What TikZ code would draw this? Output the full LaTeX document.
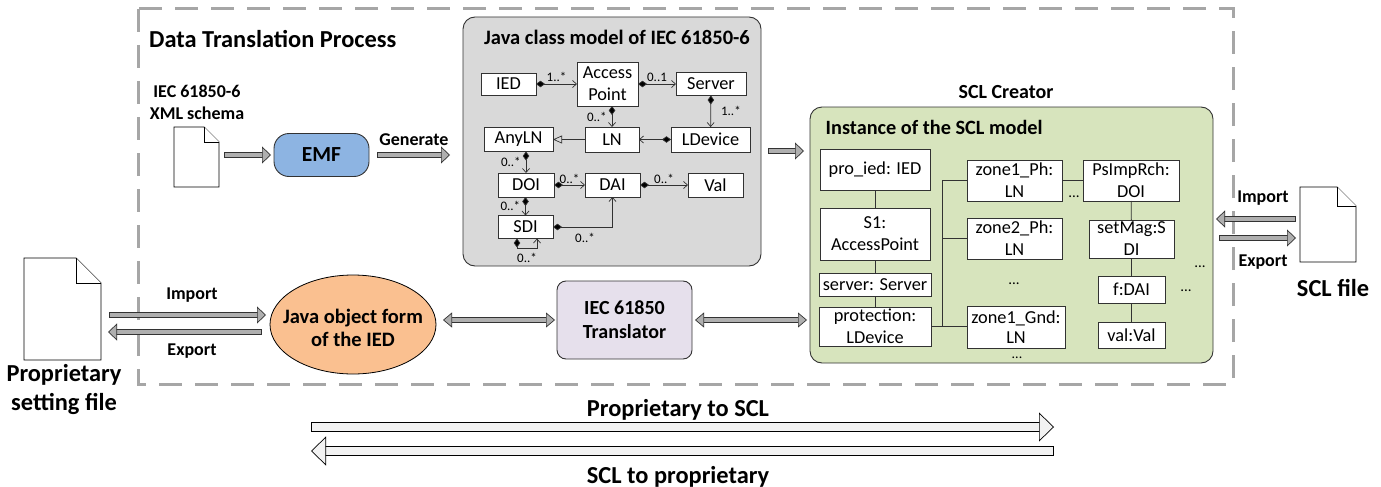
\documentclass[tikz,border=0pt]{standalone}
\usepackage{fontspec}
\setmainfont{Carlito}
\usepackage{tikz}
\usetikzlibrary{arrows.meta, positioning, shapes.geometric, calc}
\definecolor{DashGray}{RGB}{166, 166, 166}
\definecolor{LineDark}{RGB}{50, 50, 50}
\definecolor{ModelGray}{RGB}{217, 217, 217}
\definecolor{SclGreen}{RGB}{215, 228, 189}
\definecolor{EmfBlue}{RGB}{141, 180, 226}
\definecolor{JavaOrange}{RGB}{250, 192, 144}
\definecolor{TransLilac}{RGB}{230, 224, 236}
\definecolor{ArrowGray}{RGB}{175, 175, 175}
\definecolor{ArrowLight}{RGB}{242, 242, 242}
\newcommand{\docfile}[2]{%
    \draw[docline] (#1.north west) -- ([xshift=-#2]#1.north east) -- ([yshift=-#2]#1.north east) -- (#1.south east) -- (#1.south west) -- cycle;
    \draw[docline] ([xshift=-#2]#1.north east) |- ([yshift=-#2]#1.north east);
}

\begin{document}
\begin{tikzpicture}[x=1pt, y=-1pt,
        umlbox/.style={rectangle, draw=LineDark, line width=0.9pt, fill=white, align=center, inner sep=0pt, outer sep=0pt, font=\fontsize{18.3}{22}\selectfont},
        panel/.style={rectangle, draw=LineDark, line width=0.9pt, rounded corners=12pt, inner sep=0pt, outer sep=0pt},
        docbox/.style={rectangle, inner sep=0pt, outer sep=0pt},
        docline/.style={draw=black, line width=0.8pt, fill=white},
        boldtxt/.style={font=\bfseries\fontsize{18}{22}\selectfont, align=center, inner sep=0pt},
        bigtxt/.style={font=\bfseries\fontsize{24.4}{29}\selectfont, align=center, inner sep=0pt},
        multi/.style={font=\fontsize{13}{13}\selectfont, inner sep=0pt},
        dotstxt/.style={font=\fontsize{15}{15}\selectfont, inner sep=0pt},
        comp/.style={draw=LineDark, line width=0.7pt, {Diamond[length=9pt,width=6.5pt,fill=black]}-{Straight Barb[length=4pt,width=7pt]}},
        link/.style={draw=LineDark, line width=0.8pt},
        blockarrow/.style={draw=black!80, double=ArrowGray, double distance=4.6pt, line width=0.7pt, line cap=rect, -{Triangle[length=9pt,width=17pt,fill=ArrowGray,line width=0.7pt]}},
        blockboth/.style={draw=black!80, double=ArrowGray, double distance=4.6pt, line width=0.7pt, {Triangle[length=9pt,width=15pt,fill=ArrowGray,line width=0.7pt]}-{Triangle[length=9pt,width=15pt,fill=ArrowGray,line width=0.7pt]}},
        bigarrow/.style={draw=black, double=ArrowLight, double distance=8.6pt, line width=0.7pt, line cap=rect, -{Triangle[length=15pt,width=29pt,fill=ArrowLight,line width=0.7pt]}}
    ]
        \useasboundingbox (0,0) rectangle (1381,487);
        % dashed process frame
        \draw[DashGray, line width=3pt, dash pattern=on 23pt off 13pt] (138,9) rectangle (1233,384);
        \node[bigtxt, anchor=west] (title) at (149,39) {Data Translation Process};

        % schema and EMF
        \node[boldtxt] (schema) at (197,102) {IEC 61850-6\\XML schema};
        \node[docbox, minimum width=45pt, minimum height=60pt] (xsd) at (196.5,157) {};
        \docfile{xsd}{15pt}
        \node[rectangle, draw=LineDark, line width=0.9pt, fill=EmfBlue, rounded corners=15pt, minimum width=95pt, minimum height=43pt, font=\bfseries\fontsize{21.5}{24}\selectfont, outer sep=0pt] (emf) at (321.5,155) {EMF};
        \draw[blockarrow, shorten <=8pt, shorten >=3pt] (xsd.east |- emf.west) -- (emf.west);

        % class model
        \node[panel, fill=ModelGray, minimum width=298pt, minimum height=249pt] (model) at (612,141.5) {};
        \node[boldtxt, font=\bfseries\fontsize{20.5}{24}\selectfont] (modeltitle) at (617,37) {Java class model of IEC 61850-6};
        \node[boldtxt, anchor=south] (generate) at (414,146) {Generate};
        \draw[blockarrow, shorten <=11pt, shorten >=13pt] (emf.east) -- (model.west |- emf.east);

        \node[umlbox, minimum width=55pt, minimum height=22pt] (ied) at (508.5,84) {IED};
        \node[umlbox, minimum width=61pt, minimum height=44pt] (access) at (607.5,84) {Access\\Point};
        \node[umlbox, minimum width=70pt, minimum height=23pt] (server) at (711,84) {Server};
        \node[umlbox, minimum width=79pt, minimum height=25pt] (ldevice) at (710.5,139.5) {LDevice};
        \node[umlbox, minimum width=54pt, minimum height=25pt] (ln) at (612,139.5) {LN};
        \node[umlbox, minimum width=69pt, minimum height=24pt] (anyln) at (518.5,139.5) {AnyLN};
        \node[umlbox, minimum width=56pt, minimum height=24pt] (doi) at (526,185) {DOI};
        \node[umlbox, minimum width=55pt, minimum height=24pt] (dai) at (612.5,185) {DAI};
        \node[umlbox, minimum width=55pt, minimum height=24pt] (val) at (715.5,185) {Val};
        \node[umlbox, minimum width=55pt, minimum height=23pt] (sdi) at (525.5,227) {SDI};

        \draw[comp] (ied) -- node[multi, above, yshift=2pt] {1..*} (access);
        \draw[comp] (access) -- node[multi, above, yshift=2pt] {0..1} (server);
        \draw[comp] (access.south -| ln.north) -- node[multi, left, xshift=-5pt] {0..*} (ln.north);
        \draw[comp] (server) -- node[multi, right, xshift=10pt] {1..*} (ldevice);
        \draw[comp] (ldevice) -- (ln);
        \draw[link, line width=0.7pt, -{Triangle[open,length=9pt,width=8pt]}] (ln) -- (anyln);
        \draw[comp] (anyln.south -| doi.north) -- node[multi, left, xshift=-5pt] {0..*} (doi.north);
        \draw[comp] (doi) -- node[multi, above, yshift=1pt] {0..*} (dai);
        \draw[comp] (dai) -- node[multi, above, yshift=1pt] {0..*} (val);
        \draw[comp] (doi.south -| sdi.north) -- node[multi, left, xshift=-5pt] {0..*} (sdi.north);
        \draw[comp] (sdi.east) -| (dai.south);
        \node[multi] (sdilabel) at (585,238) {0..*};
        \draw[comp] ([xshift=-8.5pt]sdi.south) -- ++(0,10) -| ([xshift=11.5pt]sdi.south);
        \node[multi] (looplabel) at (527,258) {0..*};

        % SCL creator
        \node[panel, fill=SclGreen, minimum width=403pt, minimum height=256pt] (creator) at (1011.5,235) {};
        \node[boldtxt, font=\bfseries\fontsize{20}{24}\selectfont] (creatortitle) at (1006,92) {SCL Creator};
        \node[boldtxt, font=\bfseries\fontsize{20.3}{24}\selectfont, anchor=west] (instancetitle) at (825.5,127) {Instance of the SCL model};
        \draw[blockarrow, shorten <=10pt, shorten >=6pt] (model.east |- 0,151) -- (creator.west |- 0,151);

        \node[umlbox, minimum width=110pt, minimum height=41pt] (proied) at (875,169.5) {pro\_ied: IED};
        \node[umlbox, minimum width=110pt, minimum height=52pt] (s1) at (875,234) {S1:\\AccessPoint};
        \node[umlbox, minimum width=112pt, minimum height=23pt] (srv) at (875,284.5) {server: Server};
        \node[umlbox, minimum width=112pt, minimum height=39pt] (prot) at (875,326.5) {protection:\\LDevice};
        \node[umlbox, minimum width=95pt, minimum height=41pt] (zoneaph) at (1014.5,180.5) {zone1\_Ph:\\LN};
        \node[umlbox, minimum width=95pt, minimum height=41pt] (zonebph) at (1014.5,238.5) {zone2\_Ph:\\LN};
        \node[umlbox, minimum width=98pt, minimum height=42pt, font=\fontsize{18.3}{20}\selectfont] (zonegnd) at (1016,327) {zone1\_Gnd:\\LN};
        \node[umlbox, minimum width=96pt, minimum height=41pt] (psimp) at (1131,180.5) {PsImpRch:\\DOI};
        \node[umlbox, minimum width=85pt, minimum height=38pt] (setmag) at (1131.5,239) {setMag:S\\DI};
        \node[umlbox, minimum width=67pt, minimum height=27pt] (fdai) at (1131.5,289.5) {f:DAI};
        \node[umlbox, minimum width=67pt, minimum height=26pt] (valval) at (1131.5,335) {val:Val};

        \draw[link] (proied) -- (s1);
        \draw[link] (s1) -- (srv);
        \draw[link] (srv) -- (prot);
        \draw[link] (prot.east) -- (zonegnd.west |- prot.east);
        \coordinate (trunk) at (942,326.5);
        \draw[link] (trunk) |- (zoneaph.west);
        \draw[link] (trunk |- zonebph.west) -- (zonebph.west);
        \draw[link] (zoneaph) -- (psimp);
        \draw[link] (psimp) -- (setmag);
        \draw[link] (setmag) -- (fdai);
        \draw[link] (fdai) -- (valval);

        \node[dotstxt] (dotsa) at (1074,197) {...};
        \node[dotstxt] (dotsb) at (1014,284) {...};
        \node[dotstxt] (dotsc) at (1200,267) {...};
        \node[dotstxt] (dotsd) at (1186,291) {...};
        \node[dotstxt, font=\fontsize{14}{14}\selectfont] (dotse) at (1017,358) {...};

        % SCL file
        \node[docbox, minimum width=56pt, minimum height=75pt] (sclfile) at (1328,224.5) {};
        \docfile{sclfile}{19pt}
        \node[bigtxt] (scllabel) at (1333,288) {SCL file};
        \node[boldtxt] (sclimport) at (1263,198) {Import};
        \node[boldtxt] (sclexport) at (1263,262) {Export};
        \draw[blockarrow, shorten <=7pt, shorten >=3pt] (sclfile.west |- 0,219) -- (creator.east |- 0,219);
        \draw[blockarrow, shorten <=9pt, shorten >=4pt] (creator.east |- 0,238) -- (sclfile.west |- 0,238);

        % proprietary side
        \node[docbox, minimum width=77pt, minimum height=102pt] (propfile) at (62.5,309) {};
        \docfile{propfile}{25pt}
        \node[bigtxt] (proplabel) at (64,390) {Proprietary\\setting file};
        \node[ellipse, draw=black, line width=0.8pt, fill=JavaOrange, minimum width=166pt, minimum height=99pt, inner xsep=-12pt, inner ysep=0pt, outer sep=0pt, align=center, font=\bfseries\fontsize{20.5}{23}\selectfont] (javaobj) at (353,324.5) {\rule{0pt}{21pt}Java object form\\of the IED};
        \node[boldtxt] (propimport) at (192,295.5) {Import};
        \node[boldtxt] (propexport) at (192,351.5) {Export};
        \draw[blockarrow, shorten <=11pt, shorten >=4pt] (propfile.east |- 0,315) -- (javaobj.west |- 0,315);
        \draw[blockarrow, shorten <=11pt, shorten >=7pt] (javaobj.west |- 0,332) -- (propfile.east |- 0,332);

        % translator
        \node[rectangle, draw=LineDark, line width=0.9pt, fill=TransLilac, rounded corners=9pt, minimum width=135pt, minimum height=78pt, outer sep=0pt, align=center, font=\bfseries\fontsize{20}{24}\selectfont] (translator) at (624.5,320) {IEC 61850\\Translator};
        \draw[blockboth, shorten <=7pt, shorten >=2pt] (javaobj.east |- translator.west) -- (translator.west);
        \draw[blockboth, shorten <=3pt, shorten >=3pt] (translator.east) -- (creator.west |- translator.east);

        % direction arrows
        \coordinate (ptsstart) at (316,427);
        \coordinate (ptsend) at (1054,427);
        \coordinate (stpstart) at (1049,451);
        \coordinate (stpend) at (311,451);
        \draw[bigarrow] (ptsstart) -- (ptsend);
        \draw[bigarrow] (stpstart) -- (stpend);
        \node[bigtxt] (ptslabel) at (678,410) {Proprietary to SCL};
        \node[bigtxt] (stplabel) at (678,477) {SCL to proprietary};
    \end{tikzpicture}
\end{document}
